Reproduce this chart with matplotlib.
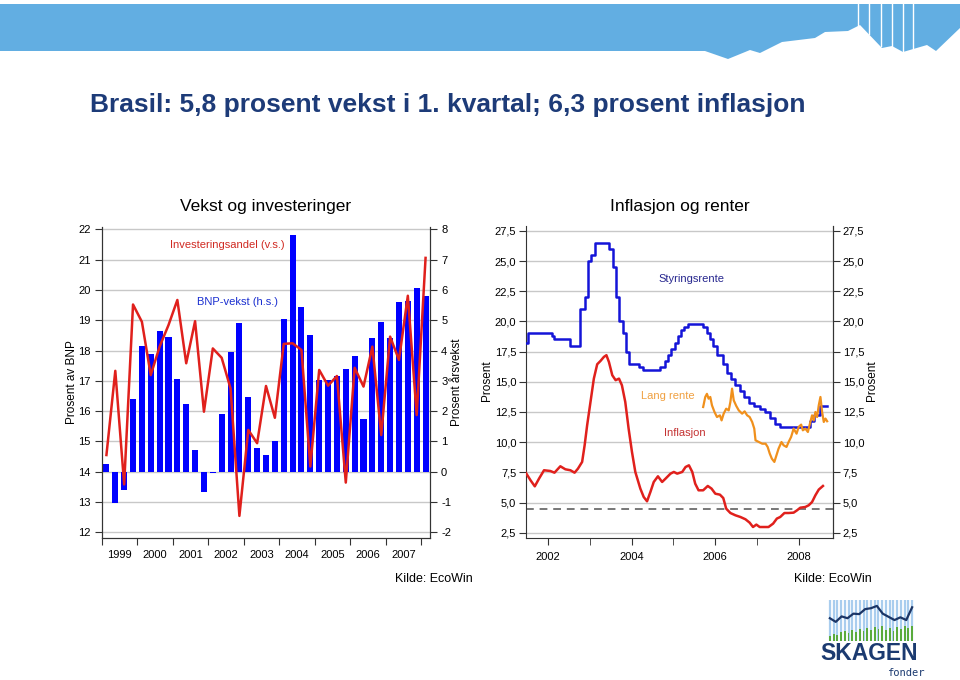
import matplotlib
matplotlib.use("Agg")
import matplotlib.pyplot as plt
from matplotlib.patches import Polygon
from matplotlib.ticker import FixedLocator, FuncFormatter

plt.rcParams['font.family'] = ['Liberation Sans', 'DejaVu Sans']
plt.rcParams['axes.unicode_minus'] = False

# ---- Vekst og investeringer (quarterly, 1999Q1 - 2008Q1) ----
years_left = ['1999', '2000', '2001', '2002', '2003', '2004', '2005', '2006', '2007']
bnp_vekst = [0.25, -1.05, -0.6, 2.4,
             4.15, 3.9, 4.65, 4.45,
             3.05, 2.25, 0.7, -0.67,
             -0.05, 1.9, 3.95, 4.9,
             2.45, 0.78, 0.56, 1.0,
             5.03, 7.8, 5.45, 4.53,
             3.03, 3.03, 3.15, 3.4,
             3.82, 1.75, 4.43, 4.95,
             4.4, 5.6, 5.63, 6.08,
             5.8]
invest_andel = [14.55, 17.33, 13.58, 19.52,
                18.95, 17.19, 18.13, 18.84,
                19.67, 17.58, 18.97, 15.98,
                18.07, 17.76, 16.75, 12.54,
                15.38, 14.94, 16.83, 15.78,
                18.22, 18.24, 18.02, 14.17,
                17.36, 16.84, 17.16, 13.64,
                17.43, 16.81, 18.13, 15.21,
                18.46, 17.69, 19.81, 15.87,
                21.06]

# ---- Inflasjon og renter ----
selic_t = [2001.48, 2001.53, 2002.10, 2002.16, 2002.53, 2002.78, 2002.88, 2002.95,
           2003.04, 2003.12, 2003.46, 2003.55, 2003.62, 2003.71, 2003.80, 2003.87,
           2003.95, 2004.17, 2004.28, 2004.69, 2004.79, 2004.87, 2004.95, 2005.03,
           2005.11, 2005.19, 2005.26, 2005.34, 2005.71, 2005.80, 2005.88, 2005.95,
           2006.04, 2006.18, 2006.28, 2006.38, 2006.48, 2006.58, 2006.68, 2006.80,
           2006.92, 2007.06, 2007.19, 2007.31, 2007.43, 2007.55, 2008.27, 2008.35,
           2008.51, 2008.67]
selic = [18.25, 19.0, 18.75, 18.5, 18.0, 21.0, 22.0, 25.0,
         25.5, 26.5, 26.0, 24.5, 22.0, 20.0, 19.0, 17.5,
         16.5, 16.25, 16.0, 16.25, 16.75, 17.25, 17.75, 18.25,
         18.75, 19.25, 19.5, 19.75, 19.5, 19.0, 18.5, 18.0,
         17.25, 16.5, 15.75, 15.25, 14.75, 14.25, 13.75, 13.25,
         13.0, 12.75, 12.5, 12.0, 11.5, 11.25, 11.75, 12.25,
         13.0, 13.0]

infl_t = [2001.48, 2001.59, 2001.69, 2001.79, 2001.91, 2002.06, 2002.16, 2002.30,
          2002.42, 2002.54, 2002.64, 2002.72, 2002.82, 2002.88, 2002.94, 2003.02,
          2003.10, 2003.18, 2003.26, 2003.34, 2003.40, 2003.46, 2003.54, 2003.62,
          2003.70, 2003.77, 2003.85, 2003.93, 2004.01, 2004.09, 2004.21, 2004.29,
          2004.37, 2004.45, 2004.53, 2004.63, 2004.73, 2004.81, 2004.93, 2005.01,
          2005.09, 2005.21, 2005.29, 2005.37, 2005.45, 2005.52, 2005.60, 2005.71,
          2005.82, 2005.91, 2006.00, 2006.11, 2006.19, 2006.26, 2006.36, 2006.48,
          2006.60, 2006.72, 2006.82, 2006.90, 2006.98, 2007.06, 2007.16, 2007.27,
          2007.38, 2007.47, 2007.55, 2007.65, 2007.75, 2007.87, 2007.95, 2008.03,
          2008.15, 2008.23, 2008.31, 2008.39, 2008.47, 2008.57]
inflasjon = [7.44, 6.83, 6.34, 6.97, 7.67, 7.61, 7.47, 8.0,
             7.75, 7.67, 7.47, 7.8, 8.36, 9.74, 11.4, 13.33,
             15.26, 16.45, 16.73, 17.06, 17.2, 16.64, 15.54, 15.13,
             15.26, 14.71, 13.33, 11.12, 9.19, 7.53, 6.15, 5.46,
             5.1, 5.87, 6.7, 7.17, 6.7, 6.97, 7.39, 7.53,
             7.39, 7.53, 7.94, 8.08, 7.53, 6.56, 6.01, 6.01,
             6.37, 6.15, 5.73, 5.65, 5.37, 4.49, 4.13, 3.94,
             3.8, 3.61, 3.33, 2.97, 3.17, 2.97, 2.97, 2.97,
             3.25, 3.67, 3.8, 4.13, 4.13, 4.16, 4.35, 4.57,
             4.63, 4.77, 5.04, 5.6, 6.07, 6.37]

lang_t = [2005.71, 2005.76, 2005.80, 2005.84, 2005.88, 2005.92, 2005.98, 2006.04,
          2006.11, 2006.15, 2006.20, 2006.26, 2006.32, 2006.36, 2006.40, 2006.44,
          2006.50, 2006.56, 2006.64, 2006.70, 2006.76, 2006.82, 2006.88, 2006.93,
          2006.96, 2007.04, 2007.12, 2007.20, 2007.25, 2007.30, 2007.35, 2007.41,
          2007.46, 2007.51, 2007.58, 2007.63, 2007.70, 2007.75, 2007.81, 2007.87,
          2007.94, 2007.99, 2008.05, 2008.09, 2008.15, 2008.21, 2008.25, 2008.31,
          2008.35, 2008.39, 2008.43, 2008.47, 2008.51, 2008.55, 2008.59, 2008.63,
          2008.67]
lang_rente = [12.91, 13.74, 14.0, 13.6, 13.74, 13.05, 12.5, 12.08,
              12.22, 11.8, 12.36, 12.77, 12.63, 13.33, 14.43, 13.46,
              13.0, 12.63, 12.36, 12.55, 12.22, 12.08, 11.67, 11.12,
              10.15, 10.01, 9.87, 9.87, 9.6, 9.05, 8.63, 8.36,
              8.91, 9.46, 10.01, 9.74, 9.6, 10.01, 10.43, 11.12,
              10.7, 11.26, 11.45, 10.98, 11.12, 10.84, 11.4, 12.22,
              11.8, 12.5, 12.08, 13.05, 13.74, 12.5, 11.67, 11.95,
              11.73]
infl_maal = 4.5
right_years = [2002, 2004, 2006, 2008]

# logo decoration
logo_line = [5.0, 4.2, 5.4, 5.0, 6.0, 5.9, 7.0, 7.2, 7.7, 6.0, 5.3, 4.6, 5.2, 4.6, 7.4]
logo_bars = [1.2, 1.6, 1.4, 1.9, 2.2, 1.8, 2.5, 2.0, 2.7, 2.3, 2.9, 2.4, 3.0, 2.6, 3.2,
             2.5, 2.9, 2.2, 3.1, 2.7, 3.3, 2.8, 3.4]

W, H = 960, 680
fig = plt.figure(figsize=(9.6, 6.8), dpi=100)


def fx(x):
    return x / W


def fy(y):
    return 1 - y / H


# banner
band_color = '#62aee2'
band_px = [(0, 4), (960, 4), (960, 28), (936, 51), (927, 45), (903, 52), (892, 46),
           (882, 48), (860, 25), (848, 31), (825, 32), (815, 38), (782, 42),
           (760, 53), (750, 50), (728, 59), (705, 51), (0, 51)]
fig.patches.append(Polygon([(fx(x), fy(y)) for x, y in band_px], closed=True,
                           transform=fig.transFigure, facecolor=band_color,
                           edgecolor='none', zorder=0))
for sx, sy in [(858, 27), (869, 34), (881, 46), (892, 46), (903, 51), (913, 49)]:
    fig.add_artist(plt.Line2D([fx(sx), fx(sx)], [fy(4), fy(sy)], transform=fig.transFigure,
                              color='white', lw=1.0, zorder=1))

fig.text(fx(90), fy(105), 'Brasil: 5,8 prosent vekst i 1. kvartal; 6,3 prosent inflasjon',
         fontsize=19, fontweight='bold', color='#1d3b78', va='center', ha='left')

spine_col = '#333333'
grid_col = '#c8c8c8'
tick_fs = 8

# ---------------- left chart ----------------
axL = fig.add_axes([fx(102), fy(538), fx(430 - 102), (538 - 227) / H])
axR = axL.twinx()
axL.set_zorder(axR.get_zorder() + 1)
axL.patch.set_visible(False)

q = list(range(len(bnp_vekst)))
axR.bar(q, bnp_vekst, width=0.68, color='#0000ff', zorder=2)
axL.plot(q, invest_andel, color='#e0201c', lw=1.8, zorder=3)

axL.set_ylim(11.81, 22.08)
axR.set_ylim(-2.19, 8.08)
axL.set_xlim(-0.5, 36.5)
axL.set_yticks(range(12, 23))
axR.set_yticks(range(-2, 9))
for y in range(-2, 9):
    axR.axhline(y, color=grid_col, lw=1.0, zorder=0)

axL.xaxis.set_major_locator(FixedLocator([i * 4 - 0.5 for i in range(10)]))
axL.xaxis.set_major_formatter(FuncFormatter(lambda v, p: ''))
axL.set_xticks([i * 4 + 1.5 for i in range(9)], years_left, minor=True)
axL.tick_params(axis='x', which='minor', length=0, pad=9, labelsize=tick_fs)
axL.tick_params(axis='x', which='major', length=5, color=spine_col)
axL.tick_params(axis='y', length=5, labelsize=tick_fs, color=spine_col, pad=3)
axR.tick_params(axis='y', length=5, labelsize=tick_fs, color=spine_col, pad=3)
for a in (axL, axR):
    a.spines['top'].set_visible(False)
    for s in ('left', 'right', 'bottom'):
        a.spines[s].set_color(spine_col)
fig.text(fx(72), fy(382), 'Prosent av BNP', fontsize=8.5, rotation=90, ha='center', va='center')
fig.text(fx(457), fy(382), 'Prosent årsvekst', fontsize=8.5, rotation=90, ha='center', va='center')

axL.text(7.2, 21.48, 'Investeringsandel (v.s.)', color='#d02a22', fontsize=8, va='center')
axL.text(10.2, 19.59, 'BNP-vekst (h.s.)', color='#1a2fd0', fontsize=8, va='center')
fig.text(fx(266), fy(206), 'Vekst og investeringer', fontsize=12.5, ha='center', va='center')
fig.text(fx(473), fy(579), 'Kilde: EcoWin', fontsize=9, ha='right', va='center')

# ---------------- right chart ----------------
ax2 = fig.add_axes([fx(526), fy(538), fx(833 - 526), (538 - 226) / H])
ax2.set_xlim(2001.48, 2008.81)
ax2.set_ylim(2.06, 27.9)
yt = [2.5 * i for i in range(1, 12)]
for y in yt:
    ax2.axhline(y, color=grid_col, lw=1.0, zorder=0)
ax2.axhline(infl_maal, color='#777777', lw=1.4, ls=(0, (4, 3)), zorder=1)
ax2.plot(selic_t, selic, drawstyle='steps-post', color='#1414d8', lw=1.8, zorder=3)
ax2.plot(lang_t, lang_rente, color='#f0901c', lw=1.6, zorder=4)
ax2.plot(infl_t, inflasjon, color='#e0201c', lw=1.8, zorder=3)

fmt = FuncFormatter(lambda v, p: f'{v:.1f}'.replace('.', ','))
ax2.set_yticks(yt)
ax2.yaxis.set_major_formatter(fmt)
ax2.set_xticks(right_years, [str(y) for y in right_years])
ax2.set_xticks([2003, 2005, 2007], minor=True)
ax2.tick_params(axis='x', which='both', length=5, labelsize=tick_fs, color=spine_col, pad=5)
ax2.tick_params(axis='y', length=5, labelsize=tick_fs, color=spine_col, pad=2)
ax2.spines['top'].set_visible(False)
for s in ('left', 'right', 'bottom'):
    ax2.spines[s].set_color(spine_col)
sec = ax2.secondary_yaxis('right')
sec.set_yticks(yt)
sec.yaxis.set_major_formatter(fmt)
sec.tick_params(length=5, labelsize=tick_fs, color=spine_col, pad=2)
sec.spines['right'].set_color(spine_col)
fig.text(fx(487), fy(381), 'Prosent', fontsize=8.5, rotation=90, ha='center', va='center')
fig.text(fx(872), fy(381), 'Prosent', fontsize=8.5, rotation=90, ha='center', va='center')

ax2.text(2004.65, 23.55, 'Styringsrente', color='#26268e', fontsize=8, va='center')
ax2.text(2004.23, 13.8, 'Lang rente', color='#f0a040', fontsize=8, va='center')
ax2.text(2004.77, 10.79, 'Inflasjon', color='#c43232', fontsize=8, va='center')
fig.text(fx(680), fy(207), 'Inflasjon og renter', fontsize=12.5, ha='center', va='center')
fig.text(fx(872), fy(579), 'Kilde: EcoWin', fontsize=9, ha='right', va='center')

# ---------------- logo ----------------
lg = fig.add_axes([fx(828), fy(641), fx(914 - 828), (641 - 600) / H])
lg.set_xlim(-0.5, len(logo_bars) - 0.5)
lg.set_ylim(0, 9)
for i in range(len(logo_bars)):
    lg.axvline(i, color='#a9cdee', lw=1.6, zorder=0)
lg.bar(range(len(logo_bars)), logo_bars, width=0.5, color='#5aab3c', zorder=1)
lx = [i * (len(logo_bars) - 1) / (len(logo_line) - 1) for i in range(len(logo_line))]
lg.plot(lx, logo_line, color='#1b3566', lw=1.6, zorder=2)
lg.axis('off')
fig.text(fx(869), fy(654), 'SKAGEN', fontsize=16.5, fontweight='bold', color='#1b3a70',
         ha='center', va='center')
fig.text(fx(925), fy(673), 'fonder', fontsize=7.5, color='#1b3a70', ha='right', va='center',
         family=['DejaVu Sans Mono', 'DejaVu Sans'])

fig.savefig('out.png', dpi=100)
